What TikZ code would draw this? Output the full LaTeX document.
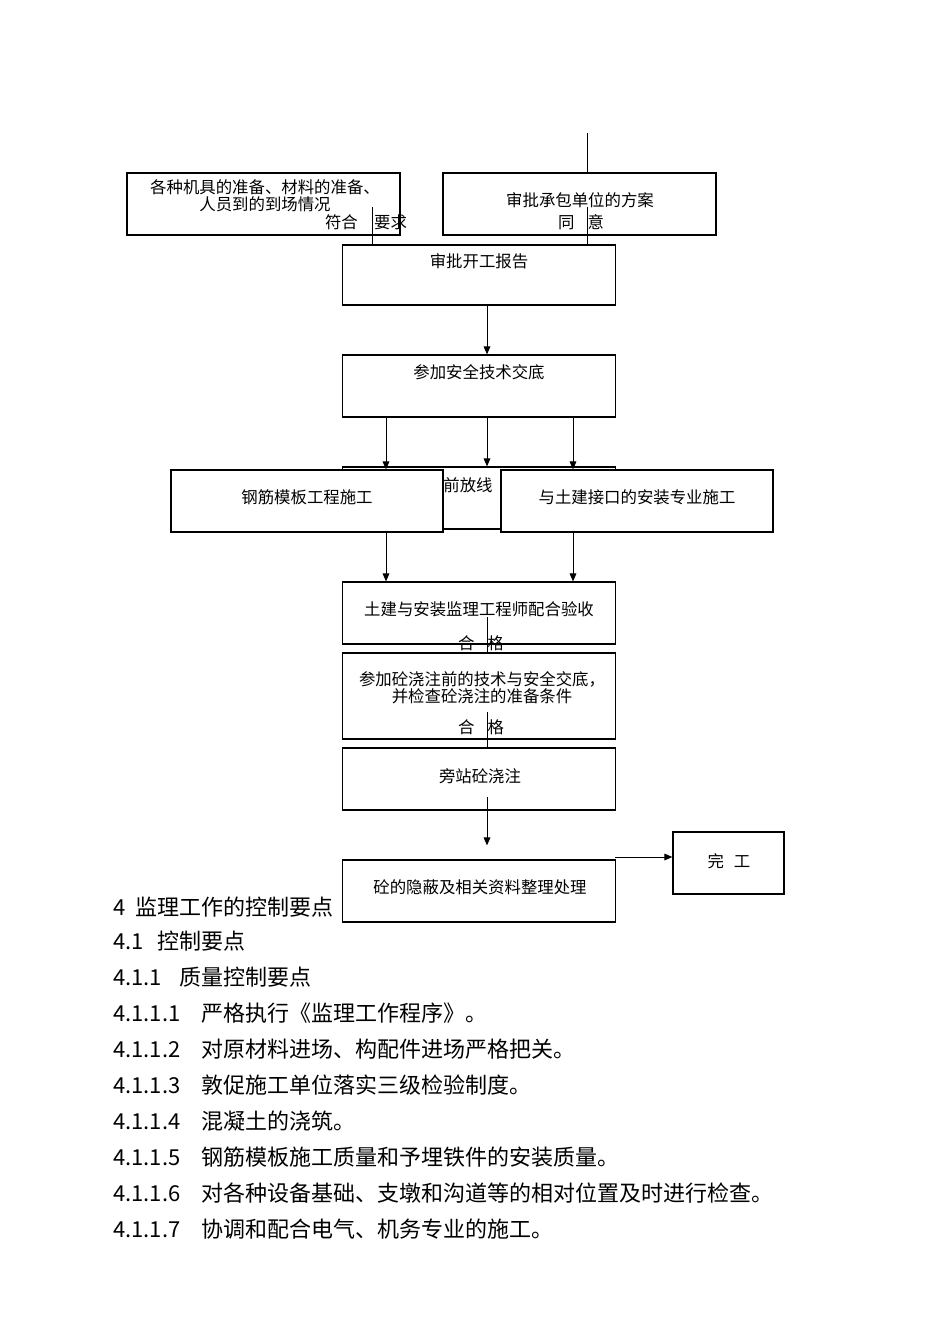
\documentclass[tikz,border=0pt]{standalone}
\usepackage{fontspec}
\setmainfont{Noto Sans CJK SC}
\usetikzlibrary{arrows.meta}
\tikzset{
 box/.style={draw, fill=white, line width=0.9pt, minimum width=273*0.75pt, minimum height=62*0.75pt, inner sep=0pt},
 txt/.style={inner sep=0pt, font=\fontsize{12.3pt}{12.6pt}\selectfont, align=center},
 body/.style={anchor=west, inner sep=0pt, font=\fontsize{16.5pt}{18pt}\selectfont},
 link/.style={line width=0.75pt},
 >={Triangle[length=6pt,width=5pt]}
}
\begin{document}
\begin{tikzpicture}[x=0.75pt,y=-0.75pt]
\useasboundingbox (0,0) rectangle (950,1344);
\node[box] (prep) at (263.5,204) {};
\node[box] (plan) at (579.5,204) {};
\node[box, minimum height=60*0.75pt] (start) at (479,275) {};
\node[box] (safety) at (479,386) {};
\node[box] (survey) at (479,498) {};
\node[txt] (surveyT) at (468,485) {前放线};
\node[box, minimum width=272*0.75pt] (rebar) at (307,501) {};
\node[box, minimum width=272*0.75pt] (install) at (637,501) {};
\node[box] (accept) at (479,613) {};
\node[box, minimum height=86*0.75pt] (brief) at (479,696) {};
\node[box] (pour) at (479,779) {};
\node[body] (s4) at (113,907) {\makebox[1em][l]{4}监理工作的控制要点};
\node[box] (record) at (479,891) {};
\node[box, minimum width=111*0.75pt] (done) at (728.5,863) {};

\node[txt] (prepT) at (265,196) {各种机具的准备、材料的准备、\\人员到的到场情况};
\node[txt] (planT) at (580,200) {审批承包单位的方案};
\node[txt] (startT) at (479,261) {审批开工报告};
\node[txt] (safetyT) at (479,372) {参加安全技术交底};
\node[txt] (rebarT) at (307,497) {钢筋模板工程施工};
\node[txt] (installT) at (637,497) {与土建接口的安装专业施工};
\node[txt] (acceptT) at (479,609) {土建与安装监理工程师配合验收};
\node[txt] (briefT) at (482,688) {参加砼浇注前的技术与安全交底，\\并检查砼浇注的准备条件};
\node[txt] (pourT) at (480,776) {旁站砼浇注};
\node[txt] (recordT) at (480,887) {砼的隐蔽及相关资料整理处理};
\node[txt] (doneT) at (729,861) {完\hspace{0.6em}工};

\foreach \x/\n in {386/l,487/m,573/r} \coordinate (x\n) at (\x,0);
\coordinate (top) at (587,133);
\draw[link] (top) -- (plan.north -| top);
\coordinate (okA) at (372,207);
\draw[link] (okA) -- (start.north -| okA);
\node[txt] (okAT) at (366,222) {符合\hspace{1em}要求};
\coordinate (okB) at (587,207);
\draw[link] (okB) -- (start.north -| okB);
\node[txt] (okBT) at (581,222) {同\hspace{0.8em}意};
\draw[link,->] (start.south -| xm) -- (safety.north -| xm);
\draw[link,->] (safety.south -| xl) -- (rebar.north -| xl);
\draw[link,->] (safety.south -| xm) -- (survey.north -| xm);
\draw[link,->] (safety.south -| xr) -- (install.north -| xr);
\draw[link,->] (rebar.south -| xl) -- (accept.north -| xl);
\draw[link,->] (install.south -| xr) -- (accept.north -| xr);
\coordinate (okE) at (487,617);
\draw[link] (okE) -- (brief.north -| okE);
\node[txt] (okET) at (481,643) {合\hspace{0.8em}格};
\coordinate (okF) at (487,712);
\draw[link] (okF) -- (pour.north -| okF);
\node[txt] (okFT) at (481,727) {合\hspace{0.8em}格};
\coordinate (go) at (487,797);
\draw[link,->, shorten >=10.5pt] (go) -- (record.north -| go);
\coordinate (fin) at (615,857);
\draw[link,->] (fin) -- (done.west |- fin);

\node[body] (s41) at (113,941) {\makebox[2em][l]{4.1}控制要点};
\node[body] (s411) at (113,977) {\makebox[3em][l]{4.1.1}质量控制要点};
\foreach \t [count=\i] in {严格执行《监理工作程序》。, 对原材料进场、构配件进场严格把关。, 敦促施工单位落实三级检验制度。, 混凝土的浇筑。, 钢筋模板施工质量和予埋铁件的安装质量。, 对各种设备基础、支墩和沟道等的相对位置及时进行检查。, 协调和配合电气、机务专业的施工。}
 \node[body] (p\i) at (113,977+36*\i) {\makebox[4em][l]{4.1.1.\i}\t};
\end{tikzpicture}
\end{document}
